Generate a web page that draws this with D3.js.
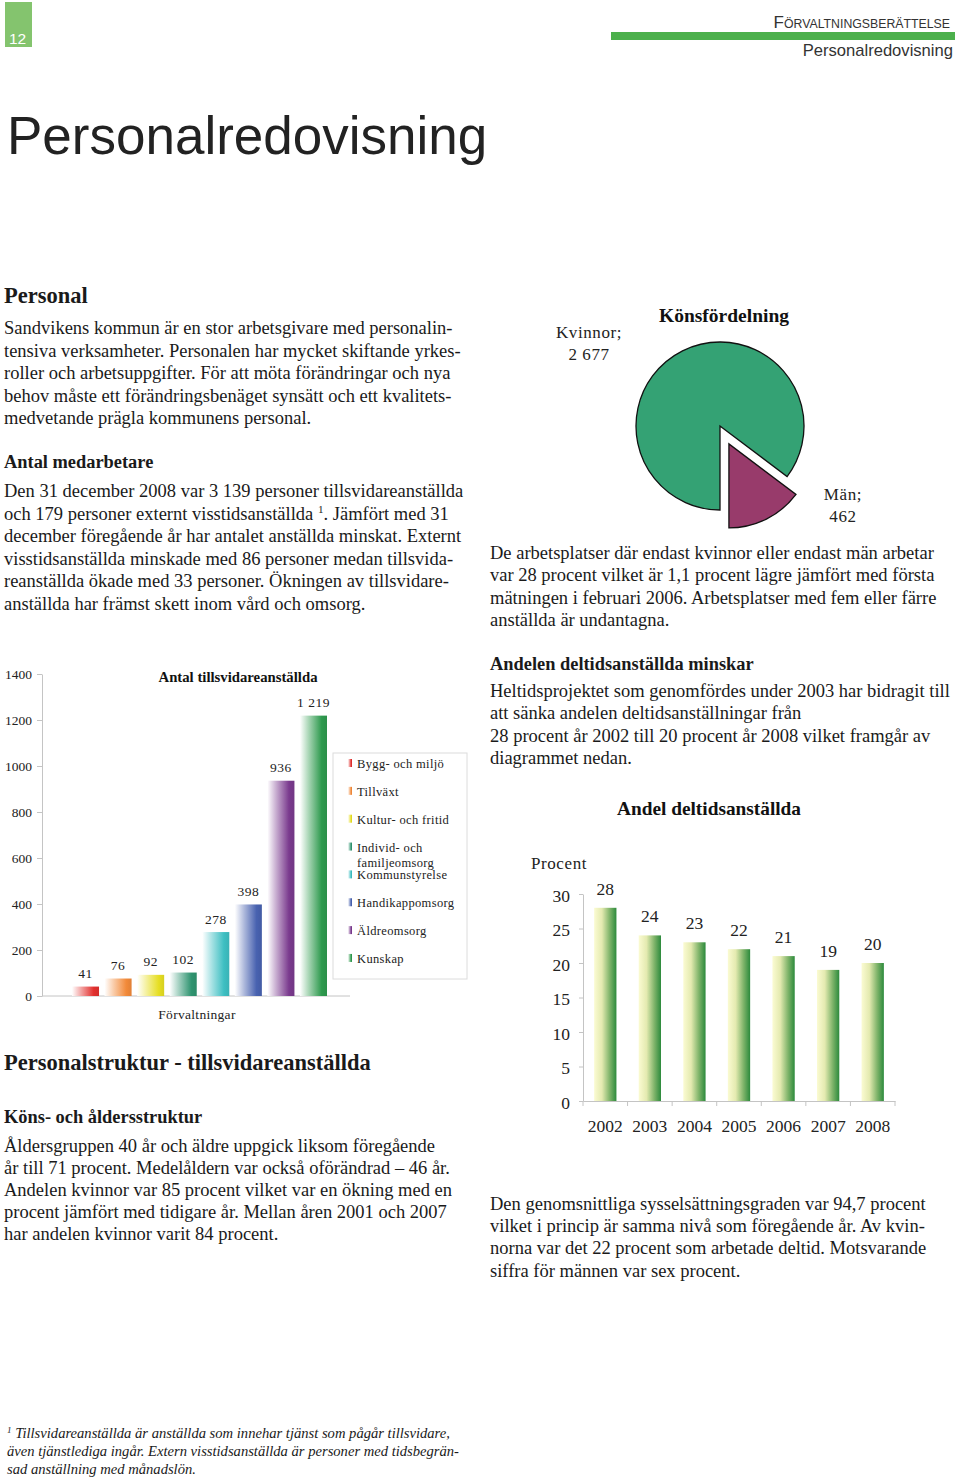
<!DOCTYPE html>
<html><head><meta charset="utf-8">
<script src="https://cdn.jsdelivr.net/npm/d3@7"></script>
<style>
html,body{margin:0;padding:0;background:#fff;}
svg{display:block;}
</style></head><body>
<svg id="page" width="960" height="1477"></svg>
<script>
// ---------- DATA ----------
const departments = ["Bygg- och miljö","Tillväxt","Kultur- och fritid","Individ- och familjeomsorg","Kommunstyrelse","Handikappomsorg","Äldreomsorg","Kunskap"];
const employees = [41, 76, 92, 102, 278, 398, 936, 1219];
const employeeTicks = [0, 200, 400, 600, 800, 1000, 1200, 1400];
const genders = ["Kvinnor", "Män"];
const genderCounts = [2677, 462];
const years = ["2002","2003","2004","2005","2006","2007","2008"];
const partTimeShare = [28, 24, 23, 22, 21, 19, 20];
const shareTicks = [0, 5, 10, 15, 20, 25, 30];

// ---------- STYLE ----------
const deptColors = ["#e2302e","#f28a3a","#e6de22","#2f9470","#3dbfc2","#4862b0","#7a3a8e","#2e9a4e"];
const genderColors = ["#34a274","#983b6b"];
const SERIF = '"Liberation Serif","Times New Roman",serif';
const SANS = '"Liberation Sans",Arial,sans-serif';

const svg = d3.select("#page");
const defs = svg.append("defs");
const fmt = d3.formatLocale({decimal:",", thousands:"\u00a0", grouping:[3], currency:["","kr"]}).format(",d");

// ---------- HEADER ----------
svg.append("rect").attr("x",5).attr("y",2).attr("width",27).attr("height",45).attr("fill","#84c46e");
svg.append("text").attr("x",9).attr("y",44).attr("font-family",SANS).attr("font-size",15.5).attr("fill","#fff").text("12");
svg.append("rect").attr("x",611).attr("y",32).attr("width",344).attr("height",8).attr("fill","#4cb04c");
const hd = svg.append("text").attr("x",950).attr("y",28).attr("text-anchor","end").attr("font-family",SANS).attr("fill","#333");
hd.append("tspan").attr("font-size",17).text("F");
hd.append("tspan").attr("font-size",12.3).text("ÖRVALTNINGSBERÄTTELSE");
svg.append("text").attr("x",953).attr("y",56).attr("text-anchor","end").attr("font-family",SANS).attr("font-size",16.6).attr("fill","#333").text("Personalredovisning");
svg.append("text").attr("x",7).attr("y",154).attr("font-family",SANS).attr("font-size",53).attr("fill","#222").text("Personalredovisning");

// ---------- BODY TEXT ----------
function addLines(x, y0, lh, lines, opts = {}) {
  lines.forEach((ln, i) => {
    const t = svg.append("text").attr("x", x).attr("y", y0 + i * lh)
      .attr("font-family", SERIF).attr("font-size", opts.size || 18.5)
      .attr("font-weight", opts.bold ? "bold" : "normal")
      .attr("font-style", opts.italic ? "italic" : "normal")
      .attr("fill", "#1a1a1a");
    const parts = ln.split("{1}");
    parts.forEach((p, j) => {
      if (j > 0) t.append("tspan").attr("font-size", (opts.size || 18.5) * 0.6).attr("dy", -7).text("1");
      if (p.length) {
        const ts = t.append("tspan").text(p);
        if (j > 0) ts.attr("dy", 7);
      }
    });
  });
}

addLines(4, 303, 0, ["Personal"], {bold:true, size:22.5});
addLines(4, 334, 22.5, [
  "Sandvikens kommun är en stor arbetsgivare med personalin-",
  "tensiva verksamheter. Personalen har mycket skiftande yrkes-",
  "roller och arbetsuppgifter. För att möta förändringar och nya",
  "behov måste ett förändringsbenäget synsätt och ett kvalitets-",
  "medvetande prägla kommunens personal."
]);
addLines(4, 468, 0, ["Antal medarbetare"], {bold:true, size:18.4});
addLines(4, 497, 22.5, [
  "Den 31 december 2008 var 3 139 personer tillsvidareanställda",
  "och 179 personer externt visstidsanställda {1}. Jämfört med 31",
  "december föregående år har antalet anställda minskat. Externt",
  "visstidsanställda minskade med 86 personer medan tillsvida-",
  "reanställda ökade med 33 personer. Ökningen av tillsvidare-",
  "anställda har främst skett inom vård och omsorg."
]);
addLines(490, 558.5, 22.5, [
  "De arbetsplatser där endast kvinnor eller endast män arbetar",
  "var 28 procent vilket är 1,1 procent lägre jämfört med första",
  "mätningen i februari 2006. Arbetsplatser med fem eller färre",
  "anställda är undantagna."
]);
addLines(490, 669.5, 0, ["Andelen deltidsanställda minskar"], {bold:true, size:18.4});
addLines(490, 697, 22.4, [
  "Heltidsprojektet som genomfördes under 2003 har bidragit till",
  "att sänka andelen deltidsanställningar från",
  "28 procent år 2002 till 20 procent år 2008 vilket framgår av",
  "diagrammet nedan."
]);
addLines(4, 1069.5, 0, ["Personalstruktur - tillsvidareanställda"], {bold:true, size:22.5});
addLines(4, 1123, 0, ["Köns- och åldersstruktur"], {bold:true, size:18.4});
addLines(4, 1151.5, 22.1, [
  "Åldersgruppen 40 år och äldre uppgick liksom föregående",
  "år till 71 procent. Medelåldern var också oförändrad – 46 år.",
  "Andelen kvinnor var 85 procent vilket var en ökning med en",
  "procent jämfört med tidigare år. Mellan åren 2001 och 2007",
  "har andelen kvinnor varit 84 procent."
]);
addLines(490, 1210, 22.2, [
  "Den genomsnittliga sysselsättningsgraden var 94,7 procent",
  "vilket i princip är samma nivå som föregående år. Av kvin-",
  "norna var det 22 procent som arbetade deltid. Motsvarande",
  "siffra för männen var sex procent."
]);
// footnote
(function(){
  const lines = [
    "Tillsvidareanställda är anställda som innehar tjänst som pågår tillsvidare,",
    "även tjänstlediga ingår. Extern visstidsanställda är personer med tidsbegrän-",
    "sad anställning med månadslön."
  ];
  lines.forEach((ln, i) => {
    const t = svg.append("text").attr("x", 7).attr("y", 1437.5 + i * 18.2)
      .attr("font-family", SERIF).attr("font-size", 14.6).attr("font-style","italic").attr("fill","#1a1a1a");
    if (i === 0) {
      t.append("tspan").attr("font-size", 9).attr("dy", -5).text("1");
      t.append("tspan").attr("dy", 5).text(" " + ln);
    } else t.text(ln);
  });
})();

// ---------- PIE: Könsfördelning ----------
(function(){
  const cx = 720, cy = 426, r = 84, explode = 20;
  const pie = d3.pie().sort(null).startAngle(Math.PI).endAngle(3 * Math.PI);
  const arc = d3.arc().innerRadius(0).outerRadius(r);
  const arcs = pie(genderCounts);
  const g = svg.append("g").attr("transform", `translate(${cx},${cy})`);
  g.selectAll("path").data(arcs).join("path")
    .attr("d", arc)
    .attr("fill", (d, i) => genderColors[i])
    .attr("stroke", "#111").attr("stroke-width", 1.3)
    .attr("transform", (d, i) => {
      if (i === 0) return null;
      const m = (d.startAngle + d.endAngle) / 2;
      return `translate(${Math.sin(m) * explode},${-Math.cos(m) * explode})`;
    });
  svg.append("text").attr("x", 724).attr("y", 322).attr("text-anchor","middle")
    .attr("font-family", SERIF).attr("font-weight","bold").attr("font-size",19)
    .attr("textLength",130).attr("lengthAdjust","spacingAndGlyphs").attr("fill","#111").text("Könsfördelning");
  const labelPos = [[589, 338], [843, 500]];
  arcs.forEach((d, i) => {
    const t = svg.append("text").attr("text-anchor","middle").attr("font-family",SERIF)
      .attr("font-size",17).attr("letter-spacing",0.6).attr("fill","#222");
    t.append("tspan").attr("x", labelPos[i][0]).attr("y", labelPos[i][1]).text(genders[i] + ";");
    t.append("tspan").attr("x", labelPos[i][0]).attr("y", labelPos[i][1] + 22).text(fmt(d.data));
  });
})();

// ---------- BAR CHART 1: Antal tillsvidareanställda ----------
(function(){
  departments.forEach((d, i) => {
    const gr = defs.append("linearGradient").attr("id", "dg" + i).attr("x1","0").attr("x2","1").attr("y1","0").attr("y2","0");
    gr.append("stop").attr("offset","0").attr("stop-color","#ffffff");
    gr.append("stop").attr("offset","0.35").attr("stop-color", d3.interpolateRgb("#ffffff", deptColors[i])(0.45));
    gr.append("stop").attr("offset","0.8").attr("stop-color", deptColors[i]);
    gr.append("stop").attr("offset","1").attr("stop-color", d3.color(deptColors[i]).darker(0.2));
  });
  const x = d3.scaleBand().domain(departments).range([72, 327]).paddingInner(0.17).paddingOuter(0);
  const y = d3.scaleLinear().domain([0, 1400]).range([996, 674]);
  const ax = svg.append("g").attr("transform","translate(42,0)")
    .call(d3.axisLeft(y).tickValues(employeeTicks).tickFormat(d3.format("d")).tickSize(5).tickSizeOuter(0).tickPadding(5));
  ax.select(".domain").attr("stroke","#c4c4c4");
  ax.selectAll(".tick line").attr("stroke","#c4c4c4");
  ax.selectAll("text").attr("font-family",SERIF).attr("font-size",13.5).attr("fill","#222");
  svg.append("line").attr("x1",42).attr("x2",350).attr("y1",y(0)).attr("y2",y(0)).attr("stroke","#c4c4c4");
  svg.selectAll(".deptbar").data(employees).join("rect").attr("class","deptbar")
    .attr("x", (d, i) => x(departments[i])).attr("width", x.bandwidth())
    .attr("y", d => y(d)).attr("height", d => y(0) - y(d))
    .attr("fill", (d, i) => `url(#dg${i})`);
  svg.selectAll(".deptlab").data(employees).join("text").attr("class","deptlab")
    .attr("x", (d, i) => x(departments[i]) + x.bandwidth() / 2).attr("y", d => y(d) - 8.5)
    .attr("text-anchor","middle").attr("font-family",SERIF).attr("font-size",13.5).attr("letter-spacing",0.5).attr("fill","#222")
    .text(d => fmt(d));
  svg.append("text").attr("x",238).attr("y",682).attr("text-anchor","middle").attr("font-family",SERIF)
    .attr("font-weight","bold").attr("font-size",14.5).attr("textLength",159).attr("lengthAdjust","spacingAndGlyphs").attr("fill","#111")
    .text("Antal tillsvidareanställda");
  svg.append("text").attr("x",197).attr("y",1018.5).attr("text-anchor","middle").attr("font-family",SERIF)
    .attr("font-size",13.5).attr("letter-spacing",0.3).attr("fill","#222").text("Förvaltningar");
  // legend
  svg.append("rect").attr("x",333).attr("y",753).attr("width",134).attr("height",226)
    .attr("fill","none").attr("stroke","#dcdcdc");
  departments.forEach((d, i) => {
    const yy = 763.5 + i * 27.85;
    svg.append("rect").attr("x",348).attr("y",yy - 4.5).attr("width",4).attr("height",8).attr("fill",`url(#dg${i})`);
    const parts = d === "Individ- och familjeomsorg" ? ["Individ- och", "familjeomsorg"] : [d];
    parts.forEach((p, j) => {
      svg.append("text").attr("x",357).attr("y",yy + 4.5 + j * 15.5).attr("font-family",SERIF)
        .attr("font-size",12.5).attr("letter-spacing",0.35).attr("fill","#222").text(p);
    });
  });
})();

// ---------- BAR CHART 2: Andel deltidsanställda ----------
(function(){
  const gr = defs.append("linearGradient").attr("id","pg").attr("x1","0").attr("x2","1").attr("y1","0").attr("y2","0");
  gr.append("stop").attr("offset","0").attr("stop-color","#fbfbd2");
  gr.append("stop").attr("offset","0.35").attr("stop-color","#e4eab0");
  gr.append("stop").attr("offset","0.7").attr("stop-color","#7fb46a");
  gr.append("stop").attr("offset","1").attr("stop-color","#2c8a3c");
  const x = d3.scaleBand().domain(years).range([583, 895]).paddingInner(0.5).paddingOuter(0.25);
  const y = d3.scaleLinear().domain([0, 30]).range([1101, 894]);
  const ay = svg.append("g").attr("transform","translate(583,0)")
    .call(d3.axisLeft(y).tickValues(shareTicks).tickSize(4).tickSizeOuter(0).tickPadding(9));
  ay.select(".domain").attr("stroke","#c4c4c4");
  ay.selectAll(".tick line").attr("stroke","#c4c4c4");
  ay.selectAll("text").attr("font-family",SERIF).attr("font-size",17.5).attr("fill","#222").attr("dy","0.4em");
  const ax = svg.append("g").attr("transform",`translate(0,${y(0)})`)
    .call(d3.axisBottom(x).tickSize(0).tickSizeOuter(0).tickPadding(19));
  ax.select(".domain").attr("stroke","#c4c4c4");
  ax.selectAll("text").attr("font-family",SERIF).attr("font-size",17.5).attr("fill","#222");
  const bounds = years.map(d => x(d) - x.step() * 0.25).concat([x(years[years.length - 1]) + x.bandwidth() + x.step() * 0.25]);
  svg.selectAll(".bt").data(bounds).join("line").attr("class","bt")
    .attr("x1", d => d).attr("x2", d => d).attr("y1", y(0)).attr("y2", y(0) + 5).attr("stroke","#c4c4c4");
  svg.selectAll(".pbar").data(partTimeShare).join("rect").attr("class","pbar")
    .attr("x", (d, i) => x(years[i])).attr("width", x.bandwidth())
    .attr("y", d => y(d)).attr("height", d => y(0) - y(d)).attr("fill","url(#pg)");
  svg.selectAll(".plab").data(partTimeShare).join("text").attr("class","plab")
    .attr("x", (d, i) => x(years[i]) + x.bandwidth() / 2).attr("y", d => y(d) - 13)
    .attr("text-anchor","middle").attr("font-family",SERIF).attr("font-size",17.5).attr("fill","#222").text(d => d);
  svg.append("text").attr("x",559).attr("y",869).attr("text-anchor","middle").attr("font-family",SERIF)
    .attr("font-size",17).attr("letter-spacing",0.6).attr("fill","#222").text("Procent");
  svg.append("text").attr("x",709).attr("y",815).attr("text-anchor","middle").attr("font-family",SERIF)
    .attr("font-weight","bold").attr("font-size",19).attr("textLength",184).attr("lengthAdjust","spacingAndGlyphs")
    .attr("fill","#111").text("Andel deltidsanställda");
})();
</script>
</body></html>
